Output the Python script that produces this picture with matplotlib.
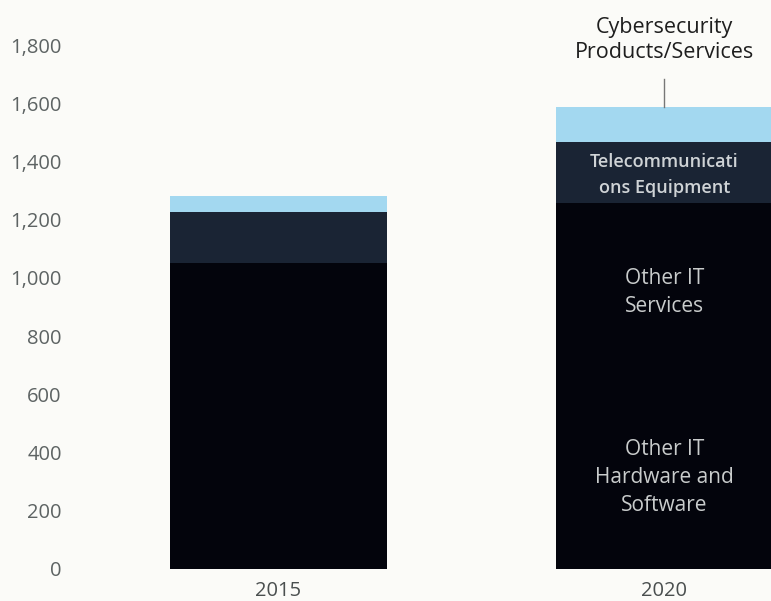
import matplotlib
matplotlib.use("Agg")
import matplotlib.pyplot as plt

years = ["2015", "2020"]
hardware_software = [540, 650]
it_services = [511, 607]
telecom = [175, 210]
cyber = [55, 120]
yticks = [0, 200, 400, 600, 800, 1000, 1200, 1400, 1600, 1800]

colors = {"hw": "#03040c", "svc": "#03040c", "tel": "#1a2434", "cyb": "#a3d8f0"}

plt.rcParams['font.family'] = ['Open Sans', 'DejaVu Sans']

fig = plt.figure(figsize=(7.71, 6.01), dpi=100)
fig.patch.set_facecolor("#fbfbf8")
H = 601.0
y_bottom = 32 / H
px_per_unit = 524 / 1800
ymax = 1900
ax = fig.add_axes([77 / 771, y_bottom, 1 - 77 / 771, ymax * px_per_unit / H])
ax.set_facecolor("#fbfbf8")

x = [0, 1]
w = 0.562
ax.bar(x, hardware_software, width=w, color=colors["hw"])
bottom2 = hardware_software
ax.bar(x, it_services, width=w, bottom=bottom2, color=colors["svc"])
bottom3 = [a + b for a, b in zip(hardware_software, it_services)]
ax.bar(x, telecom, width=w, bottom=bottom3, color=colors["tel"])
bottom4 = [a + b for a, b in zip(bottom3, telecom)]
ax.bar(x, cyber, width=w, bottom=bottom4, color=colors["cyb"])

ax.set_xlim(-0.522, 1.276)
ax.set_ylim(0, ymax)
ax.set_yticks(yticks)
ax.set_yticklabels([f"{v:,}" for v in yticks], fontsize=14.5, color="#5d6363")
ax.set_xticks(x)
ax.set_xticklabels(years, fontsize=14.5, color="#4a4f4f")
ax.tick_params(axis="y", length=0, pad=11)
ax.tick_params(axis="x", length=0, pad=9)
for s in ax.spines.values():
    s.set_visible(False)

# labels inside 2020 bar
ax.text(1, hardware_software[1] / 2 - 10, "Other IT\nHardware and\nSoftware", ha="center", va="center",
        color="#c9cccc", fontsize=15, linespacing=1.45)
ax.text(1, hardware_software[1] + it_services[1] / 2 - 5, "Other IT\nServices", ha="center", va="center",
        color="#c9cccc", fontsize=15, linespacing=1.45)
ax.text(1, bottom3[1] + telecom[1] / 2 - 8, "Telecommunicati\nons Equipment", ha="center", va="center",
        color="#cfd3d6", fontsize=13, fontweight="semibold", linespacing=1.6)

top2020 = bottom4[1] + cyber[1]
ax.plot([1, 1], [top2020, top2020 + 95], color="#777777", lw=1)
ax.text(1, top2020 + 150, "Cybersecurity\nProducts/Services", ha="center", va="bottom",
        color="#1e1e1e", fontsize=15.5, linespacing=1.3, clip_on=False)

fig.savefig("out.png", dpi=100, facecolor=fig.get_facecolor())
